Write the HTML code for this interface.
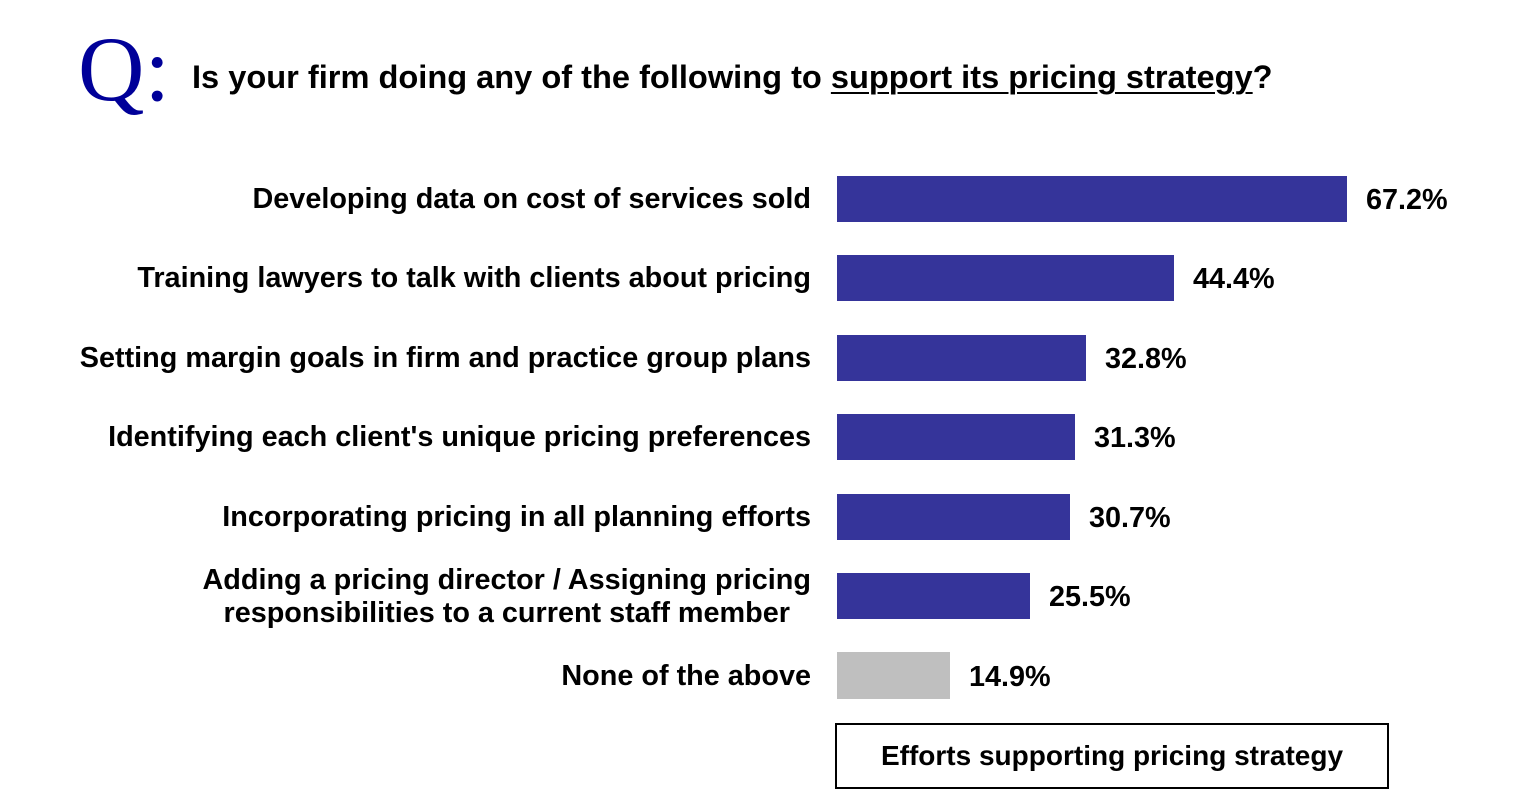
<!DOCTYPE html>
<html><head><meta charset="utf-8"><style>
body{margin:0;width:1540px;height:798px;background:#fff;position:relative;overflow:hidden;font-family:"Liberation Sans",sans-serif;}
.q{position:absolute;left:78px;top:23px;font-family:"Liberation Serif",serif;font-size:92px;color:#000099;line-height:1;}
.t{position:absolute;left:192px;top:59px;font-size:32.6px;font-weight:bold;line-height:1.1;white-space:nowrap;}
.t u{text-decoration-thickness:2px;text-underline-offset:4px;}
.l{position:absolute;right:729px;font-size:28.8px;font-weight:bold;text-align:right;line-height:33px;white-space:nowrap;}
.b{position:absolute;left:837px;height:46px;background:#35349a;}
.v{position:absolute;font-size:28.8px;font-weight:bold;line-height:46px;}
.box{position:absolute;left:835px;top:723px;width:550px;height:62px;border:2px solid #000;font-size:28px;font-weight:bold;text-align:center;line-height:62px;}
</style></head><body>
<div class="q">Q:</div>
<div class="t">Is your firm doing any of the following to <u>support its pricing strategy</u>?</div>

<div class="l" style="top:183px">Developing data on cost of services sold</div>
<div class="b" style="top:176px;width:510px"></div><div class="v" style="top:177px;left:1366px">67.2%</div>

<div class="l" style="top:262px">Training lawyers to talk with clients about pricing</div>
<div class="b" style="top:255px;width:337px"></div><div class="v" style="top:256px;left:1193px">44.4%</div>

<div class="l" style="top:342px">Setting margin goals in firm and practice group plans</div>
<div class="b" style="top:335px;width:249px"></div><div class="v" style="top:336px;left:1105px">32.8%</div>

<div class="l" style="top:421px">Identifying each client's unique pricing preferences</div>
<div class="b" style="top:414px;width:238px"></div><div class="v" style="top:415px;left:1094px">31.3%</div>

<div class="l" style="top:501px">Incorporating pricing in all planning efforts</div>
<div class="b" style="top:494px;width:233px"></div><div class="v" style="top:495px;left:1089px">30.7%</div>

<div class="l" style="top:564px;text-align:center">Adding a pricing director / Assigning pricing<br>responsibilities to a current staff member</div>
<div class="b" style="top:573px;width:193px"></div><div class="v" style="top:574px;left:1049px">25.5%</div>

<div class="l" style="top:660px">None of the above</div>
<div class="b" style="top:652px;width:113px;height:47px;background:#bfbfbf"></div><div class="v" style="top:654px;left:969px">14.9%</div>

<div class="box">Efforts supporting pricing strategy</div>
</body></html>
